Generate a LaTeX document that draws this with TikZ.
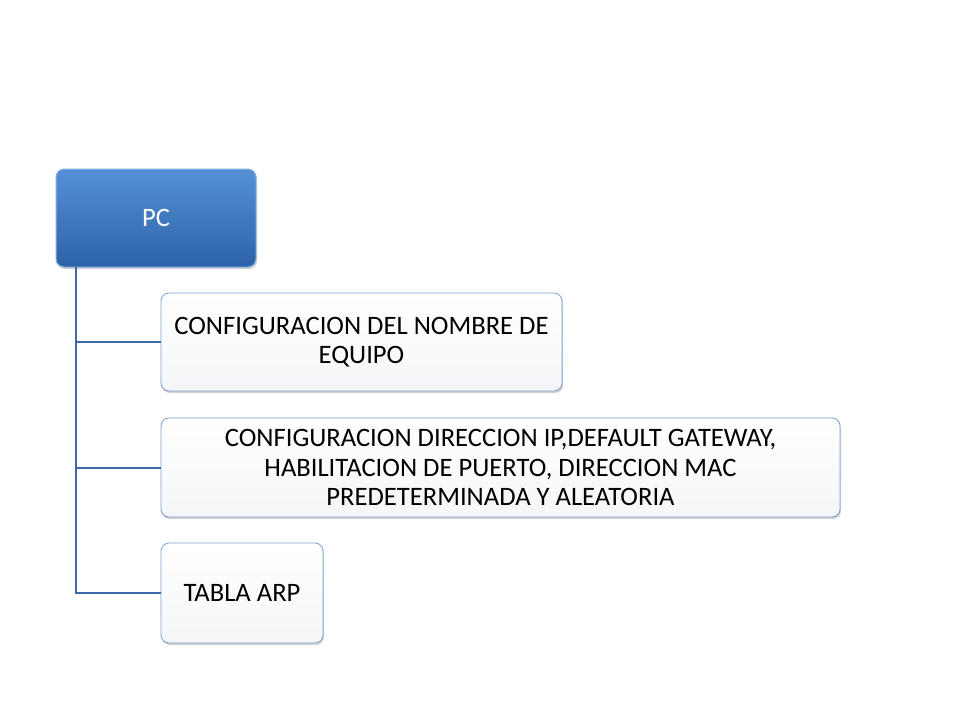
\documentclass[tikz,border=0pt]{standalone}
\usepackage{fontspec}
\setmainfont{Carlito}
\usetikzlibrary{shadows}
\definecolor{pctop}{HTML}{5590D6}
\definecolor{pcbot}{HTML}{2D62A8}
\definecolor{pcedge}{HTML}{8DB3E2}
\definecolor{linecol}{HTML}{3E6AA6}
\definecolor{boxedge}{HTML}{7C9FCC}
\definecolor{boxfill}{HTML}{F4F6F9}
\tikzset{
  pcbox/.style={rounded corners=8pt, draw=pcedge, line width=1pt,
    top color=pctop, bottom color=pcbot, text=white,
    minimum width=200pt, minimum height=98pt, font=\fontsize{26.6}{29.5}\selectfont,
    drop shadow={shadow xshift=1pt, shadow yshift=-2pt, opacity=0.35}},
  childbox/.style={rounded corners=8pt, draw=boxedge, line width=0.8pt,
    top color=white, bottom color=boxfill, text=black, align=center,
    font=\fontsize{26.6}{29.5}\selectfont, inner sep=0pt,
    drop shadow={shadow xshift=1pt, shadow yshift=-2pt, opacity=0.35}},
  conn/.style={draw=linecol, line width=2pt}
}
\begin{document}
\begin{tikzpicture}[x=1pt,y=-1pt]
\useasboundingbox[fill=white] (0,0) rectangle (960,720);
\node[pcbox] (pc) at (156,218) {PC};
\node[childbox, minimum width=401pt, minimum height=98pt] (b1) at (361.5,342)
  {CONFIGURACION DEL NOMBRE DE\\EQUIPO};
\node[childbox, minimum width=679pt, minimum height=99pt] (b2) at (500.5,467.5)
  {CONFIGURACION DIRECCION IP,DEFAULT GATEWAY,\\HABILITACION DE PUERTO, DIRECCION MAC\\PREDETERMINADA Y ALEATORIA};
\node[childbox, minimum width=162pt, minimum height=100pt] (b3) at (242,593)
  {TABLA ARP};
\coordinate (trunk) at (76,267);
\draw[conn] (trunk) |- (b3.west);
\draw[conn] (trunk |- b1.west) -- (b1.west);
\draw[conn] (trunk |- b2.west) -- (b2.west);
\end{tikzpicture}
\end{document}
